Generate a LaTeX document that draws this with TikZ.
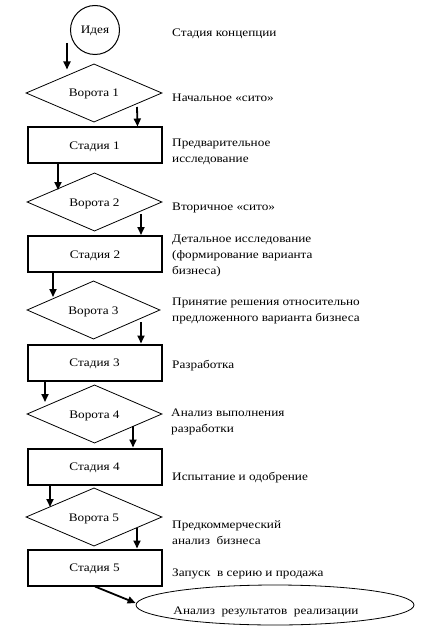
\documentclass[tikz,border=0pt]{standalone}
\usepackage{fontspec}
\setmainfont{Liberation Serif}[FakeStretch=1.15]
\usetikzlibrary{shapes.geometric,arrows.meta,calc}
\begin{document}
\begin{tikzpicture}[x=1pt,y=-1pt,
  every node/.style={font=\fontsize{11.5}{16}\selectfont},
  gate/.style={draw,diamond,line width=0.8pt,inner sep=0pt,minimum width=135pt,minimum height=50pt,text height=8pt,text depth=0pt},
  stage/.style={draw,rectangle,line width=2pt,inner sep=0pt,minimum width=134pt,minimum height=36pt,text height=8pt,text depth=0pt},
  lbl/.style={anchor=west,align=left,inner sep=0pt,yshift=-1.5pt},
  arr/.style={line width=1.8pt,-{Triangle[length=8pt,width=7pt]}}]
\useasboundingbox (0,0) rectangle (436,639);
\node[draw,circle,line width=1pt,minimum size=49pt,inner sep=0pt,text height=8pt,text depth=0pt] (i) at (95,30) {Идея};
\node[gate,minimum width=136pt,minimum height=51pt] (d1) at (94,93) {Ворота 1};
\node[stage] (s1) at (94.5,145.5) {Стадия 1};
\node[gate] (d2) at (94.5,202) {Ворота 2};
\node[stage] (s2) at (95,254) {Стадия 2};
\node[gate,minimum width=133pt] (d3) at (93.5,310) {Ворота 3};
\node[stage] (s3) at (94.5,362.5) {Стадия 3};
\node[gate] (d4) at (94.5,414) {Ворота 4};
\node[stage] (s4) at (94.5,466.5) {Стадия 4};
\node[gate,minimum width=136pt,minimum height=49pt] (d5) at (94,517) {Ворота 5};
\node[stage] (s5) at (94.5,567.5) {Стадия 5};
\node[draw,ellipse,line width=0.8pt,inner sep=0pt,minimum width=278pt,minimum height=40pt,text height=18pt,text depth=0pt] (e) at (275,605) {\hspace*{-18pt}Анализ\ \ результатов\ \ реализации};

\node[lbl] (l0) at (172,32) {Стадия концепции};
\node[lbl] (l1) at (172,96) {Начальное «сито»};
\node[lbl] (l2) at (172,150.5) {Предварительное\\исследование};
\node[lbl] (l3) at (172,206) {Вторичное «сито»};
\node[lbl] (l4) at (172,254) {Детальное исследование\\(формирование варианта\\бизнеса)};
\node[lbl] (l5) at (172,309) {Принятие решения относительно\\предложенного варианта бизнеса};
\node[lbl] (l6) at (172,364) {Разработка};
\node[lbl] (l7) at (171,420.5) {Анализ выполнения\\разработки};
\node[lbl] (l8) at (172,476) {Испытание и одобрение};
\node[lbl] (l9) at (172,531.5) {Предкоммерческий\\анализ\ \ бизнеса};
\node[lbl] (l10) at (172,572) {Запуск\ \ в серию и продажа};

\draw[arr] ([shift={(-3,13)}]i.west) -- ([shift={(-27,6)}]d1.north);
\draw[arr] ([shift={(43,14)}]d1.center) -- ([xshift=43pt]s1.north);
\draw[arr] ([xshift=-36.5pt]s1.south) -- ([shift={(-36.5,-12)}]d2.center);
\draw[arr] ([shift={(46.5,12)}]d2.center) -- ([xshift=46pt]s2.north);
\draw[arr] ([xshift=-42pt]s2.south) -- ([shift={(-40.5,-13)}]d3.center);
\draw[arr] ([shift={(47.5,12)}]d3.center) -- ([xshift=46.5pt]s3.north);
\draw[arr] ([xshift=-49.5pt]s3.south) -- ([shift={(-49.5,-12)}]d4.center);
\draw[arr] ([shift={(38.5,12)}]d4.center) -- ([xshift=38.5pt]s4.north);
\draw[arr] ([xshift=-44.5pt]s4.south) -- ([shift={(-44,-10)}]d5.center);
\draw[arr] ([shift={(43,11)}]d5.center) -- ([xshift=42.5pt]s5.north);
\draw[arr] ([xshift=0.5pt]s5.south) -- ([shift={(0,-2)}]e.west);
\end{tikzpicture}
\end{document}
